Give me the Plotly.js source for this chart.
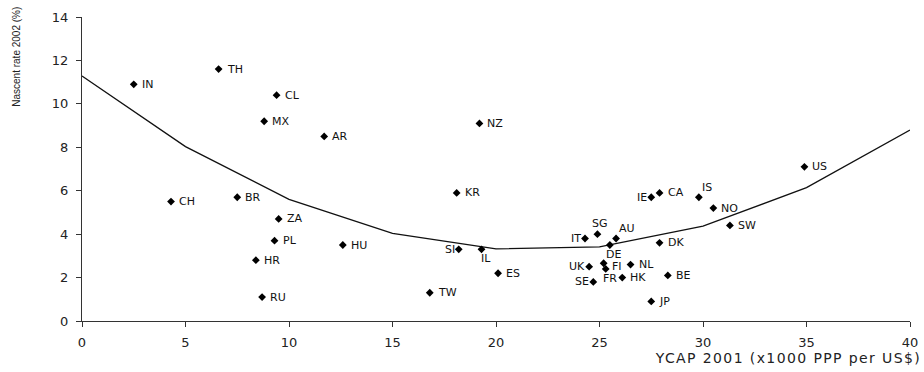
<!DOCTYPE html>
<html><head><meta charset="utf-8">
<script src="https://cdn.plot.ly/plotly-3.0.1.min.js"></script>
<style>html,body{margin:0;padding:0;background:#fff}#chart{width:924px;height:372px}</style>
</head><body><div id="chart"></div>
<script>
const countries = ["IN","TH","CL","MX","AR","NZ","CH","BR","ZA","PL","HR","RU","KR","HU","SI","IL","ES","TW","IT","SG","AU","DE","UK","SE","FI","FR","HK","NL","BE","JP","DK","IE","CA","IS","NO","SW","US"];
const ycap = [2.5,6.6,9.4,8.8,11.7,19.2,4.3,7.5,9.5,9.3,8.4,8.7,18.1,12.6,18.2,19.3,20.1,16.8,24.3,24.9,25.8,25.5,24.5,24.7,25.2,25.3,26.1,26.5,28.3,27.5,27.9,27.5,27.9,29.8,30.5,31.3,34.9];
const nascent = [10.9,11.6,10.4,9.2,8.5,9.1,5.5,5.7,4.7,3.7,2.8,1.1,5.9,3.5,3.3,3.3,2.2,1.3,3.8,4.0,3.8,3.5,2.5,1.8,2.66,2.4,2.0,2.6,2.1,0.9,3.6,5.7,5.9,5.7,5.2,4.4,7.1];
const labelPos = ["right","right","right","right","right","right","right","right","right","right","right","right","right","right","left","below","right","right","left","above","above right","below","left","left","right low","below","right","right","right","right","right","left","right","above right","right","right","right"];
const fitX = [0,5,10,15,20,25,30,35,40];
const fitY = [11.28,8.03,5.6,4.03,3.32,3.41,4.37,6.14,8.79];

const axisFont = {family:"DejaVu Sans, sans-serif", size:13, color:"#222"};
const labelFont = {family:"DejaVu Sans, sans-serif", size:11, color:"#111"};
const placement = {
  "right":       {xanchor:"left",   yanchor:"middle", xshift:7,  yshift:0},
  "right low":   {xanchor:"left",   yanchor:"middle", xshift:7,  yshift:-3},
  "left":        {xanchor:"right",  yanchor:"middle", xshift:-3, yshift:0},
  "above":       {xanchor:"center", yanchor:"bottom", xshift:3,  yshift:3},
  "above right": {xanchor:"left",   yanchor:"bottom", xshift:2,  yshift:2},
  "below":       {xanchor:"center", yanchor:"top",    xshift:4,  yshift:-2}
};
const labelAnns = countries.map((c, i) => Object.assign({
  text:c, x:ycap[i], y:nascent[i], xref:"x", yref:"y", showarrow:false, borderpad:0, font:labelFont
}, placement[labelPos[i]]));

const data = [
  {x:fitX, y:fitY, mode:"lines", line:{color:"#111", width:1.3}, hoverinfo:"skip", showlegend:false},
  {x:ycap, y:nascent, mode:"markers", marker:{symbol:"diamond", size:6, color:"#000"}, showlegend:false}
];
const layout = {
  width:924, height:372,
  margin:{l:82, r:14, t:17, b:51},
  paper_bgcolor:"#fff", plot_bgcolor:"#fff",
  xaxis:{range:[0,40], dtick:5, tick0:0, showgrid:false, zeroline:false, showline:true, linecolor:"#333", linewidth:1,
         ticks:"outside", ticklen:5, tickcolor:"#333", tickfont:axisFont, ticklabelstandoff:4},
  yaxis:{range:[0,14], dtick:2, tick0:0, showgrid:false, zeroline:false, showline:true, linecolor:"#333", linewidth:1,
         ticks:"outside", ticklen:5, tickcolor:"#333", tickfont:axisFont, ticklabelstandoff:5},
  annotations:[
    {text:"YCAP 2001 (x1000 PPP per US$)", xref:"paper", yref:"paper", x:0.714, y:0, xanchor:"left", yanchor:"middle",
     yshift:-37, showarrow:false, font:{family:"DejaVu Sans, sans-serif", size:14, color:"#222"}},
    {text:"Nascent rate 2002 (%)", xref:"paper", yref:"y", x:0, y:12.17, xanchor:"center", yanchor:"middle",
     xshift:-65, textangle:-90, showarrow:false, font:{family:"Liberation Sans, Arial, sans-serif", size:10, color:"#222"}}
  ].concat(labelAnns)
};
Plotly.newPlot("chart", data, layout, {displayModeBar:false, staticPlot:true}).then(function(gd){
  const t = gd.querySelectorAll('.annotation-text')[0];
  if (t) t.style.letterSpacing = '1.4px';
});
</script></body></html>
